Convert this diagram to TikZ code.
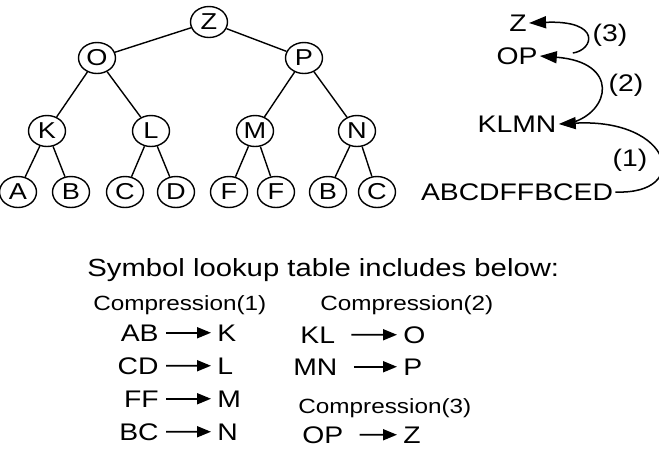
\documentclass[tikz,border=0pt]{standalone}
\usepackage{fontspec}
\setmainfont{Liberation Sans}[FakeStretch=1.18]
\usetikzlibrary{arrows.meta,shapes.geometric}

\tikzset{
  treenode/.style={draw, ellipse, minimum width=18.5pt, minimum height=15.5pt, inner sep=0pt, line width=0.7pt, font=\fontsize{11.5}{13}\selectfont},
  sym/.style={inner sep=1pt, font=\fontsize{12}{14}\selectfont},
  caption/.style={inner sep=1pt, font=\fontsize{10.3}{12}\selectfont},
  maparrow/.style={-{Triangle[length=7pt,width=5.5pt]}, line width=0.9pt, shorten <=2.5pt, shorten >=2pt},
  looparrow/.style={-{Triangle[length=8.5pt,width=6pt]}, line width=0.75pt},
}

\begin{document}
\begin{tikzpicture}[x=0.5pt, y=-0.5pt]
    \useasboundingbox (0,0) rectangle (659,457);

    % Tree
    \node[treenode] (z) at (209,22) {Z};
    \node[treenode] (o) at (97,58) {O};
    \node[treenode] (p) at (304,58) {P};
    \node[treenode] (k) at (47,131) {K};
    \node[treenode] (l) at (151,131) {L};
    \node[treenode] (m) at (255,131) {M};
    \node[treenode] (n) at (357,131) {N};
    \node[treenode] (a) at (18,192) {A};
    \node[treenode] (b1) at (71,192) {B};
    \node[treenode] (c1) at (125,192) {C};
    \node[treenode] (d) at (176,192) {D};
    \node[treenode] (f1) at (229,192) {F};
    \node[treenode] (f2) at (276,192) {F};
    \node[treenode] (b2) at (328,192) {B};
    \node[treenode] (c2) at (377,192) {C};
    \foreach \from/\to in {z/o, z/p, o/k, o/l, p/m, p/n, k/a, k/b1, l/c1, l/d, m/f1, m/f2, n/b2, n/c2}
        \draw[line width=0.7pt] (\from) -- (\to);

    % Compression steps
    \node[sym] (zsym) at (518,23) {Z};
    \node[sym] (opsym) at (517,56) {OP};
    \node[sym] (klmnsym) at (517,124) {KLMN};
    \node[sym] (rawsym) at (517,192) {ABCDFFBCED};
    \node[sym] (stepthree) at (610,35) {(3)};
    \node[sym] (steptwo) at (626,85) {(2)};
    \node[sym] (stepone) at (630,160) {(1)};
    \draw[looparrow] (rawsym.east) .. controls +(77,3) and +(114,-6) .. (klmnsym.east);
    \draw[looparrow] ([shift={(12,-1)}]klmnsym.east) .. controls +(40,-11) and +(80,6) .. (opsym.east);
    \draw[looparrow] ([shift={(33,-3)}]opsym.east) .. controls +(21,-3) and +(73,-3) .. (zsym.east);

    % Lookup table
    \node[sym, anchor=base west, font=\fontsize{12.4}{15}\selectfont] (title) at (85,276) {Symbol lookup table includes below:};
    \node[caption, anchor=base west] (compone) at (91,310) {Compression(1)};
    \node[caption, anchor=base west] (comptwo) at (318,310) {Compression(2)};
    \node[caption, anchor=base west] (compthree) at (296,413) {Compression(3)};

    \foreach \src/\dst/\y in {AB/K/341, CD/L/374, FF/M/407, BC/N/440} {
        \node[sym, anchor=base east] (src\src) at (161,\y) {\src};
        \node[sym, anchor=base west] (dst\dst) at (215,\y) {\dst};
        \draw[maparrow] (src\src.east) -- (dst\dst.west);
    }
    \foreach \src/\dst/\x/\y in {KL/O/298/343, MN/P/291/375, OP/Z/300/443} {
        \node[sym, anchor=base west] (src\src) at (\x,\y) {\src};
        \node[sym, anchor=base west] (dst\dst) at (401,\y) {\dst};
        \draw[maparrow, shorten <=7pt] (src\src.east) -- (dst\dst.west);
    }
\end{tikzpicture}
\end{document}
